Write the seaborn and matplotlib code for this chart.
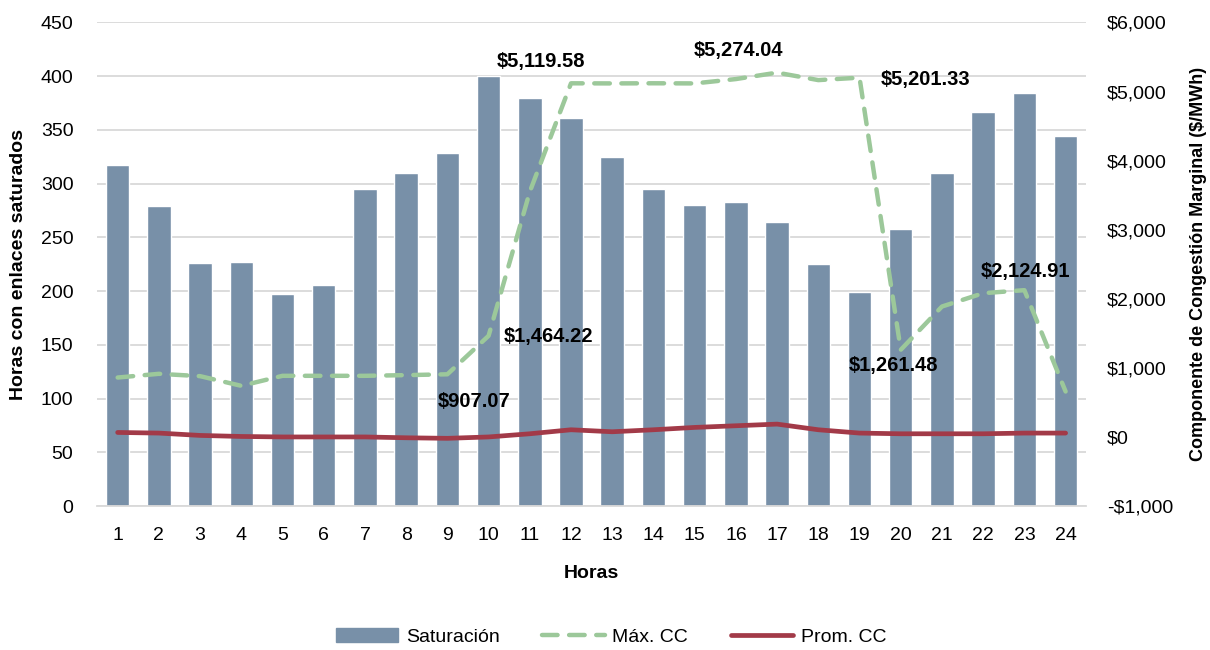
import numpy as np
import pandas as pd
import matplotlib
matplotlib.use("Agg")
import matplotlib.pyplot as plt
import seaborn as sns
from matplotlib.lines import Line2D
from matplotlib.patches import Patch
from matplotlib.ticker import FuncFormatter

# datos
horas = list(range(1, 25))
saturacion = [317, 279, 226, 227, 197, 206, 295, 310, 329, 400, 380, 361,
              325, 295, 280, 283, 264, 225, 199, 258, 310, 367, 384, 344]
max_cc = [860, 914, 880, 740, 885, 885, 885, 895, 907.07, 1464.22, 3550, 5119.58,
          5118, 5120, 5118, 5181, 5274.04, 5166, 5201.33, 1261.48, 1888, 2081, 2124.91, 658]
prom_cc = [65, 56, 22, 7, 0, 0, 0, -12, -20, 0, 46, 104,
           75, 104, 138, 162, 186, 104, 56, 46, 46, 46, 56, 56]

# etiquetas de Máx. CC: hora y posicion del texto (hora, $)
etiq_horas = [9, 10, 12, 17, 19, 20, 23]
etiq_pos = [(9.64, 513), (11.46, 1454), (11.28, 5431), (16.07, 5600),
            (20.6, 5181), (19.83, 1034), (23.02, 2394)]

df = pd.DataFrame({"hora": horas, "saturacion": saturacion,
                   "max_cc": max_cc, "prom_cc": prom_cc})
df["pos"] = np.arange(len(df))

c_bar = "#7890A8"
c_max = "#9CC89A"
c_prom = "#A23A48"
grid_c = "#D9D9D9"

sns.set_style("white")
plt.rcParams["font.family"] = ["Liberation Sans", "DejaVu Sans"]
plt.rcParams["text.color"] = "black"
plt.rcParams["xtick.color"] = "black"
plt.rcParams["ytick.color"] = "black"
plt.rcParams["axes.labelcolor"] = "black"

fig = plt.figure(figsize=(12.1, 6.5), dpi=100)
ax = fig.add_axes([0.0802, 0.2215, 0.8175, 0.7439])

sns.barplot(data=df, x="hora", y="saturacion", color=c_bar, width=0.57,
            saturation=1, ax=ax, zorder=2)
ax.set_ylim(0, 450)
ax.set_yticks(np.arange(0, 451, 50))
ax.set_xlim(-0.5, len(horas) - 0.5)
ax.grid(axis="y", color=grid_c, lw=1.3, zorder=0)
ax.set_axisbelow(True)
for s in ["top", "right", "left"]:
    ax.spines[s].set_visible(False)
ax.spines["bottom"].set_color(grid_c)
ax.spines["bottom"].set_linewidth(1.3)
ax.tick_params(length=0, labelsize=14)
ax.tick_params(axis="x", pad=15)
ax.tick_params(axis="y", pad=17)
ax.set_xlabel("Horas", fontsize=14, fontweight="bold")
ax.set_ylabel("Horas con enlaces saturados", fontsize=14, fontweight="bold")
ax.xaxis.set_label_coords(0.5, -0.122)
ax.yaxis.set_label_coords(-0.071, 0.5)

ax2 = ax.twinx()
sns.lineplot(data=df, x="pos", y="max_cc", color=c_max, lw=3.2, ax=ax2,
             dashes=False, zorder=3)
ax2.lines[-1].set_dashes((3.5, 2.6))
ax2.lines[-1].set_dash_capstyle("round")
sns.lineplot(data=df, x="pos", y="prom_cc", color=c_prom, lw=3.4, ax=ax2, zorder=3)
ax2.set_ylim(-1000, 6000)
ax2.set_yticks(np.arange(-1000, 6001, 1000))
ax2.yaxis.set_major_formatter(FuncFormatter(
    lambda v, p: f"-${abs(v):,.0f}" if v < 0 else f"${v:,.0f}"))
for s in ["top", "right", "left", "bottom"]:
    ax2.spines[s].set_visible(False)
ax2.tick_params(length=0, labelsize=14, pad=15)
ax2.set_xlabel("")
ax2.set_ylabel("Componente de Congestión Marginal ($/MWh)", fontsize=13,
               fontweight="bold")
ax2.yaxis.set_label_coords(1.105, 0.5)
ax2.set_xlim(-0.5, len(horas) - 0.5)

for h, (xh, yv) in zip(etiq_horas, etiq_pos):
    v = df.loc[df["hora"] == h, "max_cc"].iloc[0]
    ax2.text(xh - 1, yv, f"${v:,.2f}", ha="center", va="center",
             fontsize=14.5, fontweight="bold", zorder=5)

handles = [Patch(color=c_bar),
           Line2D([], [], color=c_max, lw=3.2, dashes=(3.5, 2.6), dash_capstyle="round"),
           Line2D([], [], color=c_prom, lw=3.4)]
fig.legend(handles, ["Saturación", "Máx. CC", "Prom. CC"], loc="center",
           bbox_to_anchor=(0.505, 0.02), ncol=3, frameon=False, fontsize=14,
           handlelength=3.2, columnspacing=2.2, handletextpad=0.4)

fig.savefig("out.png", dpi=100)
